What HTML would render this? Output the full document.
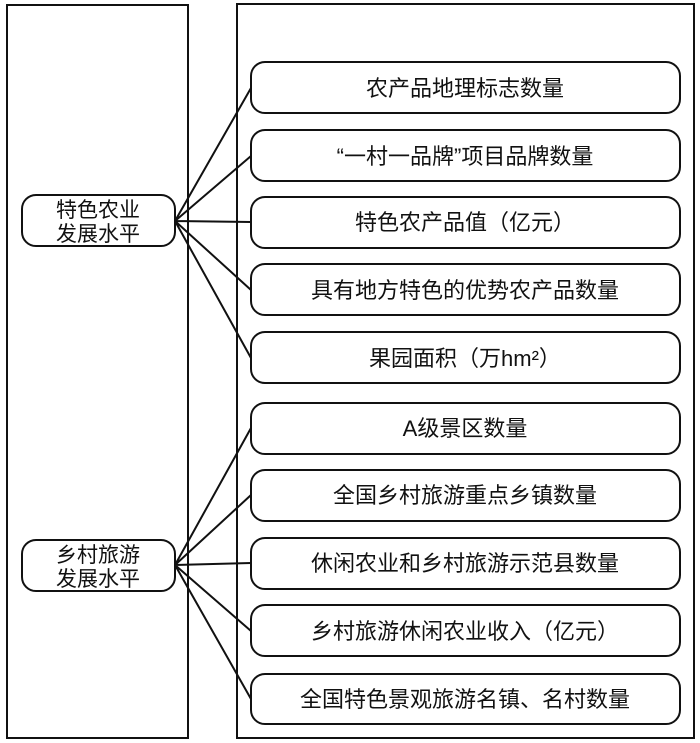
<!DOCTYPE html>
<html><head><meta charset="utf-8"><style>
html,body{margin:0;padding:0;background:#fff}
svg{display:block}
text{font-family:"Liberation Sans","Noto Sans CJK SC",sans-serif;font-size:21px;fill:#111}
.r{font-size:22px}
</style></head><body>
<svg width="700" height="743" viewBox="0 0 700 743" xmlns="http://www.w3.org/2000/svg">
<g fill="none" stroke="#111" stroke-width="2">
<rect x="7" y="5" width="181" height="733"/>
<rect x="237" y="4" width="457" height="734"/>
<rect x="22" y="195" width="153" height="51" rx="14"/>
<rect x="22" y="540" width="153" height="51" rx="14"/>
<rect x="251" y="62" width="429" height="51" rx="14"/>
<rect x="251" y="130" width="429" height="51" rx="14"/>
<rect x="251" y="197" width="429" height="51" rx="14"/>
<rect x="251" y="264" width="429" height="51" rx="14"/>
<rect x="251" y="332" width="429" height="51" rx="14"/>
<rect x="251" y="403" width="429" height="51" rx="14"/>
<rect x="251" y="470" width="429" height="51" rx="14"/>
<rect x="251" y="538" width="429" height="51" rx="14"/>
<rect x="251" y="605" width="429" height="51" rx="14"/>
<rect x="251" y="674" width="429" height="50" rx="14"/>
<path d="M175 221L251 88M175 221L251 156M175 221L251 222M175 221L251 290M175 221L251 358"/>
<path d="M175 565L251 428M175 565L251 495M175 565L251 563M175 565L251 631M175 565L251 699"/>
</g>
<g text-anchor="middle">
<text x="98" y="217">特色农业</text>
<text x="98" y="241">发展水平</text>
<text x="98" y="562">乡村旅游</text>
<text x="98" y="586">发展水平</text>
<text class="r" x="465" y="96">农产品地理标志数量</text>
<text class="r" x="465" y="164">“一村一品牌”项目品牌数量</text>
<text class="r" x="465" y="230">特色农产品值（亿元）</text>
<text class="r" x="465" y="298">具有地方特色的优势农产品数量</text>
<text class="r" x="465" y="366">果园面积（万hm²）</text>
<text class="r" x="465" y="436">A级景区数量</text>
<text class="r" x="465" y="503">全国乡村旅游重点乡镇数量</text>
<text class="r" x="465" y="571">休闲农业和乡村旅游示范县数量</text>
<text class="r" x="465" y="639">乡村旅游休闲农业收入（亿元）</text>
<text class="r" x="465" y="707">全国特色景观旅游名镇、名村数量</text>
</g>
</svg>
</body></html>
